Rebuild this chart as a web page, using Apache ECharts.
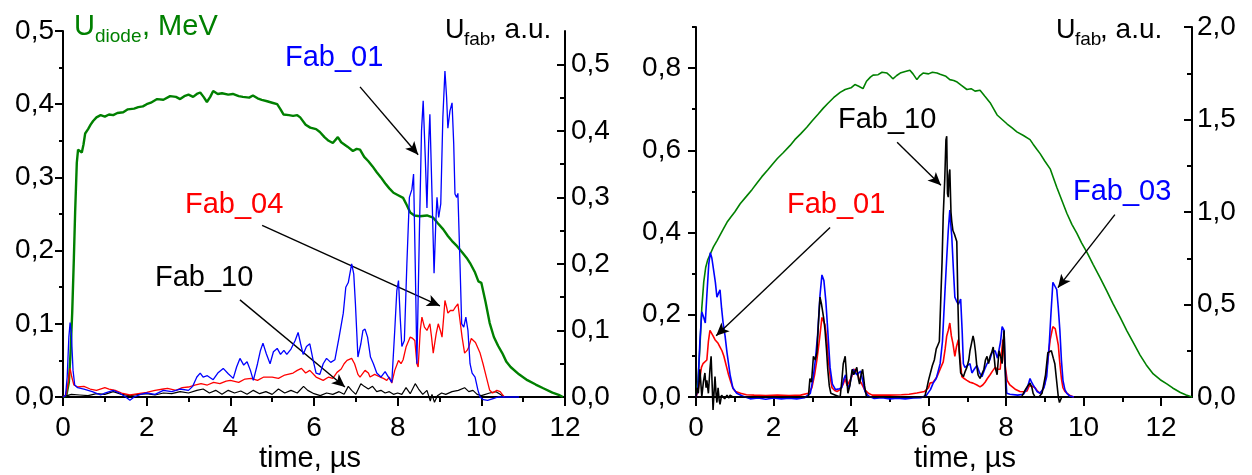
<!DOCTYPE html>
<html>
<head>
<meta charset="utf-8">
<script src="https://cdn.jsdelivr.net/npm/echarts@6/dist/echarts.min.js"></script>
<style>
  html, body { margin: 0; padding: 0; background: #ffffff; }
  #chart { width: 1252px; height: 475px; }
</style>
</head>
<body>
<div id="chart"></div>
<script>
// ---------- Left panel: diode voltage (MeV) and fast detector signals (a.u.) ----------
const diodeA = [[0,0],[0.08,0.002],[0.14,0.02],[0.18,0.06],[0.22,0.115],[0.26,0.19],[0.29,0.252],[0.33,0.32],[0.36,0.338],[0.4,0.34],[0.45,0.334],[0.49,0.345],[0.53,0.36],[0.6,0.366],[0.66,0.372],[0.72,0.377],[0.8,0.382],[0.9,0.385],[1.0,0.383],[1.1,0.386],[1.2,0.385],[1.3,0.388],[1.44,0.389],[1.55,0.393],[1.7,0.394],[1.8,0.396],[1.91,0.397],[2.0,0.4],[2.1,0.402],[2.25,0.407],[2.4,0.406],[2.56,0.411],[2.7,0.41],[2.8,0.407],[2.9,0.411],[3.0,0.413],[3.11,0.41],[3.2,0.414],[3.28,0.416],[3.36,0.41],[3.44,0.403],[3.52,0.41],[3.59,0.418],[3.7,0.414],[3.8,0.415],[3.95,0.413],[4.06,0.414],[4.2,0.411],[4.3,0.41],[4.45,0.409],[4.54,0.412],[4.65,0.408],[4.75,0.406],[4.88,0.404],[5.0,0.402],[5.12,0.4],[5.2,0.393],[5.27,0.386],[5.4,0.385],[5.5,0.384],[5.6,0.385],[5.67,0.382],[5.8,0.372],[5.91,0.368],[6.05,0.366],[6.14,0.362],[6.25,0.355],[6.35,0.35],[6.45,0.347],[6.57,0.355],[6.65,0.348],[6.8,0.342],[6.93,0.336],[7.02,0.339],[7.1,0.338],[7.2,0.328],[7.3,0.322],[7.4,0.315],[7.5,0.307],[7.6,0.3],[7.7,0.292],[7.8,0.285],[7.9,0.279],[8.0,0.276],[8.13,0.272],[8.22,0.262],[8.3,0.252],[8.4,0.248],[8.53,0.247],[8.7,0.248],[8.85,0.245],[8.95,0.238],[9.09,0.229],[9.2,0.22],[9.3,0.213],[9.42,0.206],[9.55,0.197],[9.65,0.19],[9.73,0.183],[9.85,0.17],[9.93,0.158],[10.0,0.156],[10.04,0.154],[10.1,0.13],[10.2,0.101],[10.3,0.082],[10.4,0.07],[10.5,0.06],[10.6,0.048],[10.7,0.041],[10.9,0.031],[11.1,0.023],[11.3,0.017],[11.48,0.012],[11.7,0.006],[11.85,0.003],[11.95,0.0]];

const fab01A = [[0,0],[0.06,0.002],[0.1,0.03],[0.14,0.09],[0.17,0.112],[0.2,0.095],[0.24,0.04],[0.28,0.018],[0.35,0.014],[0.5,0.012],[0.7,0.008],[0.9,0.003],[1.0,0.006],[1.2,0.01],[1.35,0.006],[1.5,0.0],[1.6,-0.005],[1.7,0.0],[1.85,0.004],[2.0,0.006],[2.2,0.004],[2.4,0.01],[2.6,0.008],[2.8,0.012],[3.0,0.01],[3.1,0.016],[3.2,0.03],[3.28,0.036],[3.35,0.03],[3.45,0.032],[3.59,0.026],[3.7,0.036],[3.83,0.043],[3.95,0.035],[4.07,0.028],[4.15,0.045],[4.23,0.058],[4.32,0.048],[4.4,0.053],[4.48,0.04],[4.55,0.025],[4.65,0.05],[4.72,0.07],[4.78,0.081],[4.86,0.065],[4.95,0.05],[5.03,0.068],[5.12,0.073],[5.2,0.064],[5.28,0.07],[5.35,0.064],[5.45,0.072],[5.55,0.085],[5.62,0.097],[5.68,0.08],[5.74,0.064],[5.82,0.076],[5.9,0.08],[5.98,0.055],[6.05,0.036],[6.14,0.034],[6.22,0.05],[6.3,0.058],[6.4,0.052],[6.5,0.056],[6.6,0.09],[6.7,0.126],[6.76,0.165],[6.82,0.172],[6.9,0.2],[6.95,0.185],[6.99,0.14],[7.05,0.06],[7.12,0.08],[7.17,0.1],[7.22,0.102],[7.28,0.09],[7.35,0.06],[7.42,0.05],[7.5,0.036],[7.6,0.03],[7.7,0.038],[7.78,0.03],[7.86,0.022],[7.93,0.1],[7.98,0.16],[8.02,0.175],[8.06,0.12],[8.1,0.076],[8.16,0.085],[8.22,0.2],[8.28,0.3],[8.34,0.312],[8.38,0.335],[8.42,0.2],[8.46,0.05],[8.52,0.25],[8.57,0.4],[8.61,0.445],[8.66,0.36],[8.7,0.284],[8.74,0.38],[8.77,0.425],[8.81,0.33],[8.87,0.186],[8.91,0.26],[8.94,0.3],[8.98,0.27],[9.03,0.29],[9.08,0.42],[9.13,0.49],[9.17,0.45],[9.2,0.404],[9.25,0.43],[9.3,0.442],[9.34,0.38],[9.37,0.305],[9.41,0.3],[9.44,0.306],[9.49,0.2],[9.53,0.11],[9.58,0.105],[9.63,0.12],[9.68,0.1],[9.73,0.05],[9.78,0.036],[9.85,0.03],[9.92,0.01],[9.97,0.0],[10.05,-0.004],[10.15,-0.005],[10.3,-0.002],[10.4,0.0],[10.9,0.0]];

const fab04A = [[0,0],[0.08,0.004],[0.12,0.02],[0.17,0.043],[0.21,0.03],[0.26,0.018],[0.35,0.015],[0.5,0.016],[0.65,0.012],[0.8,0.01],[1.0,0.014],[1.1,0.012],[1.25,0.01],[1.4,0.006],[1.6,0.003],[1.8,0.005],[2.0,0.007],[2.2,0.01],[2.4,0.012],[2.5,0.013],[2.7,0.01],[2.85,0.014],[3.0,0.015],[3.15,0.018],[3.3,0.02],[3.45,0.018],[3.6,0.022],[3.75,0.02],[3.9,0.024],[4.0,0.025],[4.2,0.022],[4.35,0.027],[4.5,0.028],[4.65,0.025],[4.8,0.03],[5.0,0.03],[5.15,0.028],[5.3,0.033],[5.5,0.036],[5.6,0.04],[5.7,0.043],[5.8,0.036],[5.9,0.04],[6.05,0.03],[6.22,0.025],[6.35,0.03],[6.45,0.028],[6.55,0.037],[6.65,0.042],[6.72,0.05],[6.79,0.055],[6.9,0.058],[6.97,0.05],[7.05,0.034],[7.1,0.03],[7.22,0.04],[7.3,0.036],[7.34,0.03],[7.45,0.034],[7.58,0.03],[7.66,0.028],[7.74,0.025],[7.8,0.03],[7.86,0.021],[7.93,0.04],[8.02,0.055],[8.08,0.05],[8.13,0.056],[8.2,0.075],[8.3,0.09],[8.36,0.088],[8.41,0.085],[8.46,0.05],[8.49,0.045],[8.54,0.1],[8.58,0.12],[8.64,0.105],[8.7,0.1],[8.77,0.11],[8.81,0.09],[8.85,0.066],[8.92,0.095],[8.97,0.11],[9.02,0.1],[9.06,0.09],[9.1,0.12],[9.13,0.145],[9.17,0.135],[9.2,0.126],[9.26,0.13],[9.33,0.13],[9.38,0.135],[9.44,0.14],[9.49,0.115],[9.54,0.09],[9.6,0.066],[9.66,0.07],[9.7,0.075],[9.76,0.088],[9.8,0.085],[9.86,0.082],[9.9,0.08],[9.97,0.066],[10.04,0.05],[10.12,0.03],[10.2,0.01],[10.27,0.006],[10.37,0.01],[10.45,0.008],[10.5,0.004],[10.55,0.0]];

const fab10A = [[0,0],[0.1,0.002],[0.2,0.004],[0.4,0.003],[0.6,0.002],[0.8,0.005],[1.0,0.004],[1.2,0.008],[1.4,0.004],[1.6,0.002],[1.8,0.004],[2.0,0.005],[2.2,0.003],[2.4,0.006],[2.6,0.005],[2.8,0.008],[3.0,0.006],[3.2,0.01],[3.35,0.012],[3.5,0.006],[3.65,0.01],[3.8,0.004],[3.95,0.01],[4.1,0.006],[4.25,0.009],[4.4,0.004],[4.55,0.01],[4.7,0.005],[4.85,0.008],[5.0,0.004],[5.15,0.012],[5.3,0.006],[5.45,0.01],[5.6,0.006],[5.75,0.016],[5.85,0.01],[6.0,0.005],[6.15,0.002],[6.3,0.006],[6.45,0.004],[6.6,0.008],[6.72,0.004],[6.82,0.016],[6.9,0.01],[7.0,0.004],[7.12,0.02],[7.2,0.016],[7.3,0.012],[7.4,0.016],[7.5,0.008],[7.6,0.01],[7.7,0.006],[7.8,0.008],[7.9,0.004],[8.0,0.006],[8.1,0.004],[8.2,0.014],[8.3,0.005],[8.42,0.02],[8.5,0.012],[8.6,0.004],[8.7,0.01],[8.78,-0.006],[8.82,0.004],[8.88,-0.008],[8.95,0.002],[9.05,0.006],[9.15,0.004],[9.3,0.008],[9.45,0.01],[9.6,0.014],[9.7,0.008],[9.8,0.01],[9.9,0.004],[10.0,0.002],[10.2,0.006],[10.35,0.008],[10.45,0.004],[10.55,0.0]];

// ---------- Right panel ----------
const diodeB = [[0,0],[0.05,0.04],[0.1,0.12],[0.15,0.217],[0.2,0.28],[0.25,0.315],[0.3,0.333],[0.36,0.346],[0.45,0.365],[0.54,0.38],[0.62,0.394],[0.7,0.408],[0.8,0.425],[0.9,0.438],[1.0,0.45],[1.14,0.47],[1.3,0.488],[1.45,0.505],[1.57,0.52],[1.7,0.536],[1.85,0.552],[1.99,0.568],[2.1,0.58],[2.25,0.594],[2.43,0.612],[2.55,0.626],[2.7,0.64],[2.86,0.656],[3.0,0.672],[3.15,0.688],[3.28,0.702],[3.4,0.714],[3.55,0.728],[3.72,0.741],[3.85,0.748],[4.0,0.752],[4.1,0.76],[4.2,0.756],[4.31,0.75],[4.4,0.768],[4.5,0.778],[4.57,0.783],[4.7,0.784],[4.8,0.79],[4.93,0.788],[5.0,0.782],[5.08,0.774],[5.18,0.782],[5.27,0.788],[5.4,0.792],[5.52,0.795],[5.6,0.786],[5.7,0.772],[5.78,0.782],[5.86,0.788],[6.0,0.786],[6.1,0.79],[6.22,0.788],[6.3,0.785],[6.45,0.78],[6.55,0.772],[6.65,0.77],[6.74,0.766],[6.85,0.758],[6.99,0.748],[7.1,0.75],[7.2,0.744],[7.33,0.746],[7.45,0.732],[7.59,0.716],[7.7,0.698],[7.77,0.686],[7.9,0.675],[8.03,0.664],[8.15,0.655],[8.28,0.645],[8.45,0.636],[8.62,0.626],[8.7,0.615],[8.8,0.602],[8.88,0.592],[9.0,0.574],[9.14,0.555],[9.22,0.534],[9.31,0.51],[9.45,0.476],[9.57,0.447],[9.7,0.42],[9.83,0.398],[9.95,0.375],[10.1,0.35],[10.25,0.322],[10.43,0.29],[10.6,0.258],[10.76,0.227],[10.95,0.193],[11.12,0.161],[11.3,0.13],[11.46,0.102],[11.62,0.078],[11.8,0.056],[11.98,0.042],[12.15,0.032],[12.3,0.022],[12.5,0.011],[12.65,0.005],[12.8,0.0]];

const fab03B = [[0,0],[0.05,0.05],[0.1,0.3],[0.15,0.46],[0.2,0.43],[0.24,0.4],[0.28,0.55],[0.33,0.72],[0.37,0.78],[0.41,0.75],[0.45,0.76],[0.5,0.62],[0.54,0.54],[0.58,0.56],[0.62,0.58],[0.66,0.48],[0.7,0.4],[0.75,0.33],[0.8,0.24],[0.88,0.12],[0.95,0.05],[1.05,0.02],[1.2,0.005],[1.4,-0.01],[1.6,-0.005],[1.8,-0.012],[2.0,-0.005],[2.2,-0.01],[2.4,-0.006],[2.6,-0.01],[2.8,-0.004],[2.95,0.02],[3.02,0.1],[3.08,0.2],[3.14,0.34],[3.2,0.55],[3.25,0.66],[3.3,0.63],[3.35,0.52],[3.4,0.36],[3.46,0.16],[3.52,0.07],[3.6,0.04],[3.7,0.045],[3.76,0.05],[3.82,0.1],[3.86,0.12],[3.9,0.07],[3.95,0.05],[4.0,0.1],[4.05,0.15],[4.1,0.16],[4.15,0.12],[4.2,0.13],[4.25,0.14],[4.3,0.09],[4.36,0.03],[4.45,0.005],[4.6,-0.008],[4.8,-0.004],[5.0,-0.01],[5.2,-0.006],[5.4,-0.01],[5.6,-0.005],[5.8,-0.004],[5.95,0.01],[6.05,0.04],[6.12,0.075],[6.2,0.1],[6.25,0.14],[6.3,0.18],[6.36,0.3],[6.42,0.55],[6.47,0.75],[6.51,0.9],[6.55,1.01],[6.58,0.92],[6.6,0.87],[6.64,0.7],[6.68,0.54],[6.72,0.52],[6.77,0.5],[6.83,0.53],[6.87,0.35],[6.9,0.18],[6.94,0.16],[6.99,0.16],[7.07,0.18],[7.12,0.13],[7.18,0.15],[7.25,0.17],[7.32,0.13],[7.38,0.11],[7.45,0.15],[7.51,0.18],[7.58,0.2],[7.64,0.24],[7.72,0.25],[7.78,0.21],[7.82,0.2],[7.86,0.3],[7.9,0.38],[7.95,0.36],[7.98,0.15],[8.02,0.02],[8.1,0.015],[8.3,0.01],[8.45,0.015],[8.55,0.05],[8.62,0.1],[8.66,0.08],[8.7,0.065],[8.8,0.03],[8.88,0.02],[8.98,0.05],[9.05,0.11],[9.12,0.3],[9.16,0.45],[9.21,0.62],[9.26,0.6],[9.31,0.58],[9.35,0.48],[9.39,0.36],[9.43,0.2],[9.47,0.09],[9.52,0.04],[9.57,0.02],[9.65,0.005],[9.75,0.0]];

const fab01B = [[0,0],[0.05,0.03],[0.1,0.1],[0.14,0.16],[0.18,0.18],[0.23,0.19],[0.28,0.2],[0.32,0.3],[0.36,0.36],[0.4,0.35],[0.44,0.33],[0.49,0.31],[0.53,0.3],[0.57,0.29],[0.62,0.27],[0.67,0.25],[0.72,0.22],[0.78,0.17],[0.84,0.12],[0.9,0.08],[0.96,0.045],[1.02,0.03],[1.15,0.02],[1.3,0.012],[1.5,0.01],[1.8,0.008],[2.1,0.01],[2.4,0.008],[2.7,0.01],[2.9,0.02],[2.99,0.05],[3.06,0.12],[3.12,0.2],[3.18,0.3],[3.25,0.43],[3.29,0.41],[3.33,0.39],[3.38,0.3],[3.42,0.19],[3.47,0.1],[3.51,0.05],[3.58,0.035],[3.64,0.03],[3.72,0.04],[3.8,0.07],[3.85,0.1],[3.9,0.06],[3.95,0.05],[4.02,0.11],[4.07,0.15],[4.15,0.14],[4.22,0.09],[4.28,0.07],[4.35,0.04],[4.45,0.02],[4.55,0.01],[5.0,0.01],[5.3,0.012],[5.5,0.015],[5.7,0.022],[5.9,0.03],[6.0,0.05],[6.04,0.075],[6.12,0.08],[6.22,0.11],[6.3,0.15],[6.38,0.19],[6.43,0.26],[6.47,0.33],[6.51,0.36],[6.55,0.4],[6.59,0.33],[6.63,0.29],[6.68,0.22],[6.72,0.27],[6.77,0.31],[6.82,0.2],[6.86,0.11],[6.92,0.1],[6.99,0.09],[7.07,0.08],[7.15,0.075],[7.25,0.065],[7.33,0.055],[7.4,0.065],[7.46,0.08],[7.52,0.1],[7.59,0.12],[7.65,0.14],[7.72,0.16],[7.78,0.15],[7.85,0.15],[7.89,0.25],[7.92,0.31],[7.96,0.2],[8.03,0.09],[8.1,0.065],[8.15,0.055],[8.25,0.04],[8.36,0.03],[8.45,0.028],[8.54,0.032],[8.6,0.06],[8.66,0.06],[8.75,0.05],[8.82,0.03],[8.88,0.02],[8.95,0.04],[9.0,0.07],[9.07,0.18],[9.14,0.31],[9.21,0.38],[9.27,0.37],[9.3,0.36],[9.35,0.28],[9.39,0.18],[9.43,0.1],[9.47,0.05],[9.52,0.03],[9.57,0.02],[9.65,0.008],[9.75,0.0]];

const fab10B = [[0,0],[0.02,0.05],[0.06,0.02],[0.1,0.15],[0.13,0.06],[0.15,0.0],[0.19,0.08],[0.23,0.13],[0.26,0.05],[0.28,0.09],[0.32,0.02],[0.36,0.15],[0.39,0.22],[0.42,0.05],[0.44,-0.07],[0.47,0.04],[0.49,0.11],[0.52,0.01],[0.54,-0.03],[0.57,0.05],[0.6,-0.02],[0.62,-0.04],[0.66,0.01],[0.7,0.02],[0.74,-0.01],[0.8,0.01],[0.85,-0.005],[0.88,0.01],[0.95,0.0],[1.1,0.0],[2.9,0.0],[2.94,0.1],[2.98,0.08],[3.03,0.22],[3.08,0.2],[3.12,0.24],[3.16,0.4],[3.2,0.54],[3.24,0.5],[3.27,0.5],[3.3,0.42],[3.33,0.36],[3.37,0.25],[3.4,0.15],[3.44,0.06],[3.48,0.02],[3.6,0.01],[3.72,0.0],[3.76,0.08],[3.8,0.18],[3.85,0.22],[3.89,0.1],[3.92,0.02],[3.97,0.06],[4.03,0.15],[4.07,0.12],[4.11,0.13],[4.15,0.16],[4.19,0.1],[4.22,0.07],[4.26,0.12],[4.3,0.15],[4.35,0.06],[4.4,0.0],[5.9,0.0],[5.95,0.04],[6.0,0.09],[6.05,0.1],[6.1,0.17],[6.15,0.2],[6.2,0.26],[6.24,0.28],[6.28,0.3],[6.32,0.55],[6.35,0.73],[6.38,0.98],[6.42,1.18],[6.45,1.39],[6.47,1.41],[6.49,1.1],[6.51,1.08],[6.53,1.2],[6.55,1.23],[6.58,1.0],[6.6,0.95],[6.63,0.9],[6.67,0.88],[6.7,0.87],[6.73,0.84],[6.76,0.5],[6.79,0.25],[6.83,0.13],[6.87,0.12],[6.9,0.11],[6.95,0.14],[6.99,0.16],[7.04,0.2],[7.07,0.25],[7.11,0.29],[7.15,0.33],[7.18,0.3],[7.21,0.25],[7.25,0.16],[7.28,0.12],[7.33,0.1],[7.38,0.09],[7.43,0.15],[7.47,0.2],[7.51,0.22],[7.55,0.18],[7.59,0.22],[7.63,0.24],[7.67,0.27],[7.72,0.16],[7.77,0.12],[7.82,0.25],[7.86,0.22],[7.9,0.18],[7.93,0.3],[7.95,0.36],[7.98,0.15],[8.0,0.0],[8.4,0.0],[8.45,0.02],[8.5,0.04],[8.56,0.06],[8.62,0.075],[8.67,0.05],[8.7,0.02],[8.75,0.0],[8.85,0.0],[8.93,0.02],[8.97,0.03],[9.02,0.12],[9.08,0.24],[9.12,0.25],[9.17,0.25],[9.22,0.21],[9.26,0.18],[9.3,0.1],[9.35,0.0],[9.38,-0.03],[9.41,-0.03],[9.44,0.0],[9.5,0.0]];

// ---------- Tick values ----------
const timeMajor = [0, 2, 4, 6, 8, 10, 12];
const timeMinor = [1, 3, 5, 7, 9, 11];
const diodeMajorA = [0, 0.1, 0.2, 0.3, 0.4, 0.5];
const diodeMinorA = [0.05, 0.15, 0.25, 0.35, 0.45];
const fabMajorA = [0, 0.1, 0.2, 0.3, 0.4, 0.5];
const fabMinorA = [0.05, 0.15, 0.25, 0.35, 0.45];
const diodeMajorB = [0, 0.2, 0.4, 0.6, 0.8];
const diodeMinorB = [0.1, 0.3, 0.5, 0.7, 0.9];
const fabMajorB = [0, 0.5, 1, 1.5, 2];
const fabMinorB = [0.25, 0.75, 1.25, 1.75];

// Annotation arrows, tail and head in data units of each panel's U_fab axis
const arrowsA = [
  { from: [7.10, 0.466], to: [8.49, 0.364] },   // Fab_01
  { from: [4.76, 0.258], to: [9.01, 0.137] },   // Fab_04
  { from: [4.23, 0.146], to: [6.74, 0.015] }    // Fab_10
];
const arrowsB = [
  { from: [5.19, 1.377], to: [6.32, 1.144] },   // Fab_10
  { from: [3.46, 0.916], to: [0.52, 0.331] },   // Fab_01
  { from: [10.81, 0.986], to: [9.34, 0.591] }   // Fab_03
];

const FONT = '"Liberation Sans", Arial, Helvetica, sans-serif';
const GREEN = '#008000', BLUE = '#0000ff', RED = '#ff0000', BLACK = '#000000';
const comma = v => v.toFixed(1).replace('.', ',');
const intFmt = v => String(Math.round(v));

function axis(o) {
  return {
    type: 'value',
    gridIndex: o.grid,
    position: o.pos,
    min: o.min,
    max: o.max,
    splitLine: { show: false },
    axisLine: { show: !!o.line, onZero: false, lineStyle: { color: BLACK, width: 2 } },
    axisTick: {
      show: true, inside: !!o.inside, length: o.len,
      customValues: o.ticks,
      lineStyle: { color: BLACK, width: 2 }
    },
    axisLabel: o.fmt ? {
      show: true, customValues: o.ticks, formatter: o.fmt, margin: o.margin,
      color: BLACK, fontSize: 28, fontFamily: FONT, interval: 0
    } : { show: false },
    minorTick: { show: false },
    silent: true
  };
}

const xAxes = [
  axis({ grid: 0, pos: 'bottom', min: 0, max: 12, ticks: timeMajor, len: 9, line: true, fmt: intFmt, margin: 17 }),
  axis({ grid: 0, pos: 'bottom', min: 0, max: 12, ticks: timeMinor, len: 5 }),
  axis({ grid: 1, pos: 'bottom', min: 0, max: 12.8, ticks: timeMajor, len: 9, line: true, fmt: intFmt, margin: 17 }),
  axis({ grid: 1, pos: 'bottom', min: 0, max: 12.8, ticks: timeMinor, len: 5 })
];

const yAxes = [
  axis({ grid: 0, pos: 'left', min: 0, max: 0.5, ticks: diodeMajorA, len: 8, line: true, fmt: comma, margin: 9 }),
  axis({ grid: 0, pos: 'right', min: 0, max: 0.55, ticks: fabMajorA, len: 8, inside: true, line: true, fmt: comma, margin: 6 }),
  axis({ grid: 0, pos: 'left', min: 0, max: 0.5, ticks: diodeMinorA, len: 4 }),
  axis({ grid: 0, pos: 'right', min: 0, max: 0.55, ticks: fabMinorA, len: 5, inside: true }),
  axis({ grid: 1, pos: 'left', min: 0, max: 0.9, ticks: diodeMajorB, len: 8, line: true, fmt: comma, margin: 15 }),
  axis({ grid: 1, pos: 'right', min: 0, max: 2, ticks: fabMajorB, len: 8, inside: true, line: true, fmt: comma, margin: 5 }),
  axis({ grid: 1, pos: 'left', min: 0, max: 0.9, ticks: diodeMinorB, len: 4 }),
  axis({ grid: 1, pos: 'right', min: 0, max: 2, ticks: fabMinorB, len: 5, inside: true })
];

function trace(data, color, width, xi, yi, z) {
  return {
    type: 'line', data: data, xAxisIndex: xi, yAxisIndex: yi,
    showSymbol: false, symbol: 'none', smooth: false, clip: false,
    lineStyle: { color: color, width: width }, z: z,
    emphasis: { disabled: true }, silent: true, animation: false
  };
}

function arrowLines(list) {
  return {
    silent: true, animation: false,
    symbol: ['none', 'arrow'], symbolSize: [9, 13],
    label: { show: false },
    lineStyle: { color: BLACK, width: 1.4, type: 'solid' },
    emphasis: { disabled: true },
    data: list.map(a => [{ coord: a.from }, { coord: a.to }])
  };
}

const series = [
  trace(diodeA, GREEN, 2.4, 0, 0, 2),
  trace(fab10A, BLACK, 1.2, 0, 1, 3),
  trace(fab04A, RED, 1.3, 0, 1, 4),
  trace(fab01A, BLUE, 1.3, 0, 1, 5),
  trace(diodeB, GREEN, 1.6, 2, 4, 2),
  trace(fab01B, RED, 1.6, 2, 5, 3),
  trace(fab03B, BLUE, 1.6, 2, 5, 4),
  trace(fab10B, BLACK, 1.6, 2, 5, 5)
];
series[1].markLine = arrowLines(arrowsA);
series[7].markLine = arrowLines(arrowsB);

function txt(x, y, s, size, color, align) {
  return {
    type: 'text', x: x, y: y, silent: true,
    style: { text: s, fontSize: size, fontFamily: FONT, fill: color, align: align || 'left', verticalAlign: 'middle' }
  };
}

const graphics = [
  // axis titles
  txt(74, 26.7, 'U', 29, GREEN), txt(95, 36.4, 'diode', 19, GREEN), txt(142, 26.7, ', MeV', 29, GREEN),
  txt(445, 30.6, 'U', 27, BLACK), txt(464, 40, 'fab', 19, BLACK), txt(489, 30.6, ', a.u.', 28, BLACK),
  txt(1056, 30.6, 'U', 27, BLACK), txt(1075, 40, 'fab', 19, BLACK), txt(1100, 30.6, ', a.u.', 28, BLACK),
  txt(310, 459, 'time, \u00b5s', 29, BLACK, 'center'),
  txt(965, 459, 'time, \u00b5s', 29, BLACK, 'center'),
  // trace labels
  txt(285, 58, 'Fab_01', 29, BLUE),
  txt(185, 205, 'Fab_04', 29, RED),
  txt(155, 278, 'Fab_10', 29, BLACK),
  txt(838, 120, 'Fab_10', 29, BLACK),
  txt(787, 205, 'Fab_01', 29, RED),
  txt(1073, 192, 'Fab_03', 29, BLUE)
];

const chart = echarts.init(document.getElementById('chart'), null, { renderer: 'canvas' });
chart.setOption({
  animation: false,
  backgroundColor: '#ffffff',
  grid: [
    { left: 63, right: 687, top: 31, bottom: 78, containLabel: false },
    { left: 696, right: 60, top: 27, bottom: 78, containLabel: false }
  ],
  xAxis: xAxes,
  yAxis: yAxes,
  series: series,
  graphic: graphics
});
</script>
</body>
</html>
